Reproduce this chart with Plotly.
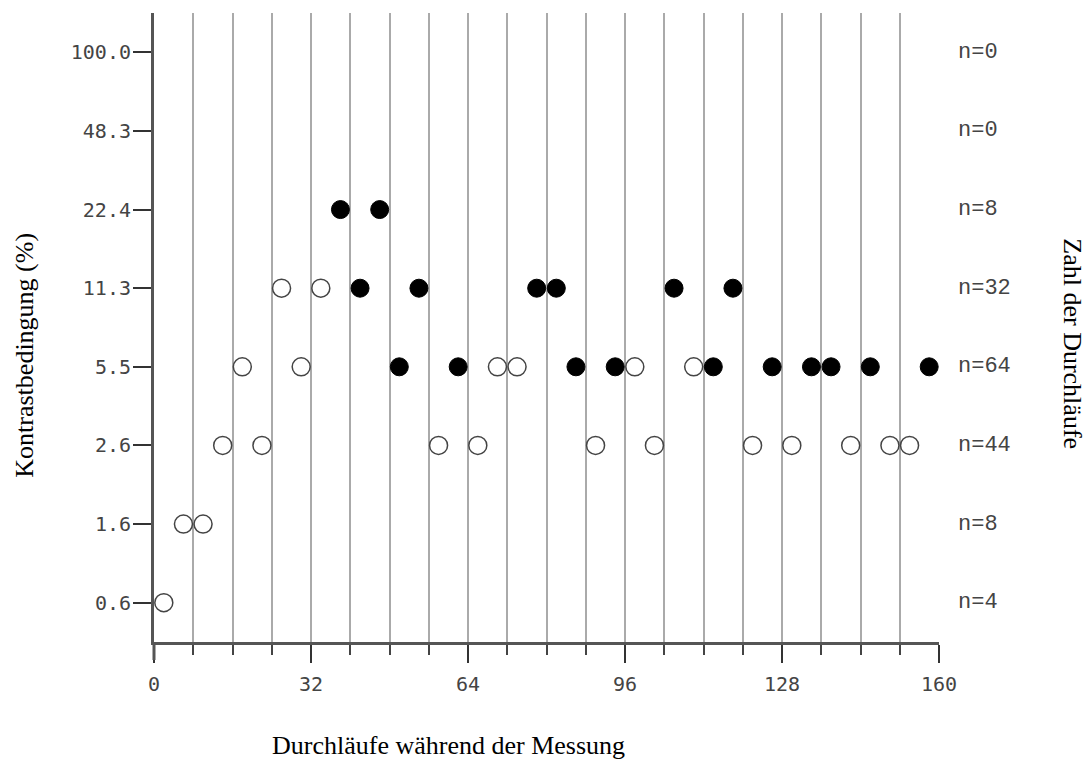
import plotly.graph_objects as go

# ---- data ----
levels = ["0.6", "1.6", "2.6", "5.5", "11.3", "22.4", "48.3", "100.0"]
level_counts = [4, 8, 44, 64, 32, 8, 0, 0]

open_runs = [2, 6, 10, 14, 18, 22, 26, 30, 34, 58, 66, 70, 74, 90, 98, 102,
             110, 122, 130, 142, 150, 154]
open_levels = ["0.6", "1.6", "1.6", "2.6", "5.5", "2.6", "11.3", "5.5", "11.3",
               "2.6", "2.6", "5.5", "5.5", "2.6", "5.5", "2.6",
               "5.5", "2.6", "2.6", "2.6", "2.6", "2.6"]

filled_runs = [38, 42, 46, 50, 54, 62, 78, 82, 86, 94, 106, 114, 118, 126,
               134, 138, 146, 158]
filled_levels = ["22.4", "11.3", "22.4", "5.5", "11.3", "5.5", "11.3", "11.3",
                 "5.5", "5.5", "11.3", "5.5", "11.3", "5.5", "5.5", "5.5",
                 "5.5", "5.5"]

x_ticks = [0, 32, 64, 96, 128, 160]

x_title = "Durchläufe während der Messung"
y_title = "Kontrastbedingung (%)"
y2_title = "Zahl der Durchläufe"

# page body has an 8px margin; compensate so the figure lands where intended
OFF = 8
W, H = 1091 - OFF, 763 - OFF
L, T = 154 - OFF, 13 - OFF
R, B = 152, 121
PW, PH = W - L - R, H - T - B

# ---- figure ----
fig = go.Figure()
fig.add_trace(go.Scatter(
    x=open_runs, y=open_levels, mode="markers",
    marker=dict(size=18, color="white", line=dict(color="#444", width=1.5)),
    showlegend=False, cliponaxis=False))
fig.add_trace(go.Scatter(
    x=filled_runs, y=filled_levels, mode="markers",
    marker=dict(size=18, color="black", line=dict(color="black", width=1)),
    showlegend=False, cliponaxis=False))

tick_font = dict(family="DejaVu Sans Mono", size=20, color="#444")
title_font = dict(family="Liberation Serif", size=26, color="black")

annotations = []
for i, (lv, n) in enumerate(zip(levels, level_counts)):
    annotations.append(dict(
        x=1, xref="paper", y=i, yref="y", xanchor="left", yanchor="middle",
        xshift=17, text=f"n={n}", showarrow=False,
        font=dict(family="Liberation Mono", size=22, color="#444")))


def px_x(px):
    return (px - 154.3) / PW


def px_y(py):
    return (642 - py) / PH


annotations += [
    dict(x=px_x(448.7), y=px_y(745), xref="paper", yref="paper", text=x_title,
         showarrow=False, font=title_font, xanchor="center", yanchor="middle"),
    dict(x=px_x(24), y=px_y(355), xref="paper", yref="paper", text=y_title,
         showarrow=False, font=title_font, textangle=-90,
         xanchor="center", yanchor="middle"),
    dict(x=px_x(1073), y=px_y(344), xref="paper", yref="paper", text=y2_title,
         showarrow=False, font=title_font, textangle=90,
         xanchor="center", yanchor="middle"),
]

fig.update_layout(
    width=W, height=H,
    margin=dict(l=L, r=R, t=T, b=B),
    paper_bgcolor="white", plot_bgcolor="white",
    annotations=annotations,
    xaxis=dict(
        range=[0, 160], tickvals=x_ticks, ticks="outside", ticklen=18,
        tickwidth=2, tickcolor="#333", showline=True, linewidth=3,
        linecolor="#555", showgrid=True, gridcolor="#aaa", gridwidth=1.5,
        zeroline=False, tickfont=tick_font, ticklabelstandoff=4,
        minor=dict(dtick=8, tick0=0, ticks="outside", ticklen=10,
                   tickwidth=2, tickcolor="#444", showgrid=True,
                   gridcolor="#aaa", gridwidth=1.5),
    ),
    yaxis=dict(
        type="category", categoryorder="array", categoryarray=levels,
        range=[-0.5, 7.5], ticks="outside", ticklen=18, tickwidth=2,
        tickcolor="#333", showline=True, linewidth=3, linecolor="#555",
        showgrid=False, zeroline=False, tickfont=tick_font,
        ticklabelstandoff=-2,
    ),
)

# extend the y-axis line below the x axis, like the reference
fig.add_shape(type="line", xref="paper", yref="paper", x0=0, x1=0,
              y0=-18 / PH, y1=0, line=dict(color="#555", width=3))

fig.write_html("out.html")
